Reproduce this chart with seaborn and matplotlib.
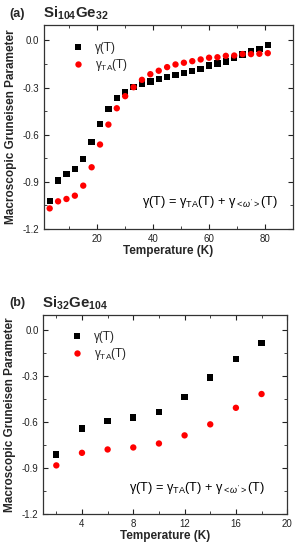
import matplotlib
matplotlib.use("Agg")
import matplotlib.pyplot as plt
import seaborn as sns
import pandas as pd
from matplotlib.ticker import MultipleLocator

# ---- data ----------------------------------------------------------------
T_a = [3, 6, 9, 12, 15, 18, 21, 24, 27, 30, 33, 36, 39, 42, 45, 48, 51, 54,
       57, 60, 63, 66, 69, 72, 75, 78, 81]
gamma_a = [-1.021, -0.893, -0.851, -0.819, -0.755, -0.647, -0.532, -0.438,
           -0.366, -0.330, -0.298, -0.275, -0.262, -0.247, -0.233, -0.220,
           -0.208, -0.196, -0.183, -0.160, -0.147, -0.134, -0.110, -0.090,
           -0.070, -0.053, -0.027]
gamma_ta_a = [-1.070, -1.025, -1.010, -0.989, -0.925, -0.808, -0.663, -0.536,
              -0.432, -0.355, -0.298, -0.251, -0.215, -0.193, -0.170, -0.153,
              -0.142, -0.132, -0.121, -0.110, -0.107, -0.098, -0.096, -0.087,
              -0.087, -0.085, -0.081]

T_b = [2, 4, 6, 8, 10, 12, 14, 16, 18]
gamma_b = [-0.810, -0.641, -0.593, -0.568, -0.534, -0.434, -0.307, -0.186,
           -0.080]
gamma_ta_b = [-0.881, -0.799, -0.777, -0.764, -0.738, -0.685, -0.613, -0.505,
              -0.415]

sns.set_style("ticks")
plt.rcParams["font.family"] = ["Liberation Sans", "DejaVu Sans"]
plt.rcParams["mathtext.fontset"] = "custom"
plt.rcParams["mathtext.rm"] = "Liberation Sans"
plt.rcParams["mathtext.it"] = "Liberation Sans:italic"
plt.rcParams["mathtext.bf"] = "Liberation Sans:bold"

fig = plt.figure(figsize=(3.02, 5.5), dpi=100)
ax_a = fig.add_axes([0.146, 0.584, 0.824, 0.371])
ax_b = fig.add_axes([0.144, 0.065, 0.807, 0.362])

LBL_G = "γ(T)"
LBL_TA = "γ$_{\\mathrm{TA}}$(T)"
EQN = "γ(T) = γ$_{\\mathrm{TA}}$(T) + γ$_{<\\omega'>}$(T)"


def draw(ax, T, g, gta, xlim, xmaj, xmin, eq_xy, leg_xy):
    df = pd.DataFrame({"T": T + T, "val": g + gta,
                       "series": [LBL_G] * len(T) + [LBL_TA] * len(T)})
    sns.scatterplot(data=df, x="T", y="val", hue="series", style="series",
                    palette={LBL_G: "black", LBL_TA: "#ff0000"},
                    markers={LBL_G: "s", LBL_TA: "o"}, s=21, linewidth=0,
                    ax=ax)
    ax.set_xlim(*xlim)
    ax.set_ylim(-1.2, 0.1)
    ax.xaxis.set_major_locator(MultipleLocator(xmaj))
    ax.xaxis.set_minor_locator(MultipleLocator(xmin))
    ax.yaxis.set_major_locator(MultipleLocator(0.3))
    ax.yaxis.set_minor_locator(MultipleLocator(0.15))
    ax.set_yticks([0.0, -0.3, -0.6, -0.9, -1.2])
    ax.set_yticklabels(["0.0", "-0.3", "-0.6", "-0.9", "-1.2"])
    ax.tick_params(which="both", direction="in", top=True, right=True,
                   labelsize=7, colors="#222222")
    ax.tick_params(which="major", length=3.5, width=0.8)
    ax.tick_params(which="minor", length=2, width=0.6)
    for sp in ax.spines.values():
        sp.set_linewidth(0.9)
        sp.set_color("#333333")
    ax.set_xlabel("Temperature (K)", fontsize=8.5, fontweight="bold",
                  labelpad=1)
    ax.set_ylabel("Macroscopic Gruneisen Parameter", fontsize=8.5,
                  fontweight="bold", labelpad=4)
    ax.legend(loc="upper left", bbox_to_anchor=leg_xy, frameon=False,
              fontsize=8.5, handletextpad=0.4, labelspacing=0.3,
              markerscale=1.0, borderaxespad=0)
    ax.text(*eq_xy, EQN, transform=ax.transAxes, fontsize=9.2,
            ha="center", va="center", color="black")


draw(ax_a, T_a, gamma_a, gamma_ta_a, (1, 90), 20, 10, (0.665, 0.13),
     (0.07, 0.94))
draw(ax_b, T_b, gamma_b, gamma_ta_b, (1, 20), 4, 2, (0.63, 0.13),
     (0.07, 0.945))

fig.text(0.057, 0.975, "(a)", fontsize=9, fontweight="bold", ha="center",
         va="center")
fig.text(0.142, 0.975, "Si$_{\\mathbf{104}}$Ge$_{\\mathbf{32}}$",
         fontsize=10.8, fontweight="bold", ha="left", va="center")
fig.text(0.057, 0.449, "(b)", fontsize=9, fontweight="bold", ha="center",
         va="center")
fig.text(0.140, 0.449, "Si$_{\\mathbf{32}}$Ge$_{\\mathbf{104}}$",
         fontsize=10.8, fontweight="bold", ha="left", va="center")

fig.savefig("out.png", dpi=100)
